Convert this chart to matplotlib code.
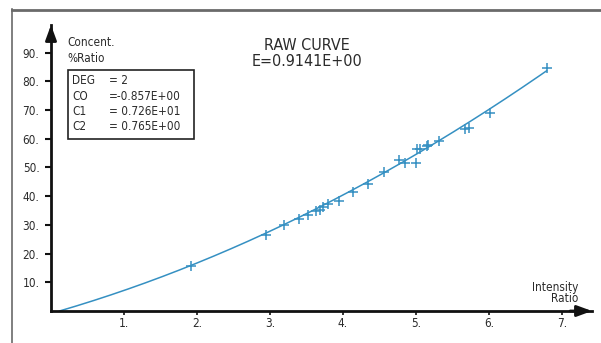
import numpy as np
import matplotlib
matplotlib.use('Agg')
import matplotlib.pyplot as plt
from matplotlib.patches import Rectangle
from matplotlib.lines import Line2D

# measured points (intensity ratio, concentration %)
x_ratio = [1.92, 2.95, 3.19, 3.40, 3.52, 3.63, 3.68, 3.73, 3.79, 3.94, 4.14, 4.34,
           4.56, 4.77, 4.85, 5.00, 5.01, 5.06, 5.15, 5.17, 5.32, 5.67, 5.73, 6.01, 6.79]
y_conc = [15.6, 26.6, 29.8, 31.9, 33.6, 34.7, 35.2, 36.1, 37.3, 38.4, 41.6, 44.2,
          48.5, 52.7, 51.6, 51.6, 56.6, 56.6, 57.6, 57.8, 59.4, 63.3, 63.6, 69.0, 84.8]

# fitted curve coefficients C0, C1, C2 (as printed on the chart)
coef = [-0.857, 7.26, 0.765]
coef_labels = ['DEG', 'CO', 'C1', 'C2']
coef_texts = ['= 2', '=-0.857E+00', '= 0.726E+01', '= 0.765E+00']

x_ticks = [1, 2, 3, 4, 5, 6, 7]
x_labels = ['1.', '2.', '3.', '4.', '5.', '6.', '7.']
y_ticks = [10, 20, 30, 40, 50, 60, 70, 80, 90]
y_labels = ['10.', '20.', '30.', '40.', '50.', '60.', '70.', '80.', '90.']

W, H = 601, 343
blue = '#3590c2'
ink = '#2b2b2b'

plt.rcParams['font.family'] = ['DejaVu Sans']
plt.rcParams['font.stretch'] = 'condensed'


def px(x, y):
    # pixel position -> figure fraction
    return x / W, 1 - y / H


fig = plt.figure(figsize=(W / 100, H / 100), dpi=100)
ax = fig.add_axes([51 / W, 32 / H, 541 / W, 286 / H])
ax.set_xlim(0, 541 / 73)
ax.set_ylim(0, 286 / 2.87)
ax.patch.set_alpha(0)

# curve from where it crosses zero up to the last point
c0, c1, c2 = coef
x_start = (-c1 + np.sqrt(c1 ** 2 - 4 * c2 * c0)) / (2 * c2)
xc = np.linspace(x_start, max(x_ratio), 200)
yc = np.polyval(coef[::-1], xc)
ax.plot(xc, yc, color=blue, lw=1.1)
ax.plot(x_ratio, y_conc, '+', color=blue, ms=6.5, mew=1.1)

for s in ['top', 'right']:
    ax.spines[s].set_visible(False)
for s in ['left', 'bottom']:
    ax.spines[s].set_linewidth(2)
    ax.spines[s].set_color('#111111')

# arrow heads
xmax, ymax = ax.get_xlim()[1], ax.get_ylim()[1]
ax.annotate('', xy=(xmax, 0), xytext=(xmax - 0.3, 0),
            arrowprops=dict(arrowstyle='-|>,head_length=0.9,head_width=0.33',
                            color='#111111', lw=2, shrinkA=0, shrinkB=0),
            annotation_clip=False)
ax.annotate('', xy=(0, ymax), xytext=(0, ymax - 5),
            arrowprops=dict(arrowstyle='-|>,head_length=0.9,head_width=0.33',
                            color='#111111', lw=2, shrinkA=0, shrinkB=0),
            annotation_clip=False)

ax.set_xticks(x_ticks)
ax.set_xticklabels(x_labels)
ax.set_yticks(y_ticks)
ax.set_yticklabels(y_labels)
ax.tick_params(axis='y', direction='out', length=4.3, width=1.5, pad=4,
               labelsize=8.5, colors='#111111', labelcolor=ink)
ax.tick_params(axis='x', direction='out', length=3, width=1.2, pad=1,
               labelsize=8.5, colors='#111111', labelcolor=ink)

# outer frame (left and top edges)
fig.add_artist(Line2D([12 / W, 12 / W], [0, 1 - 9 / H], color='#6a6a6a', lw=1.2))
fig.add_artist(Line2D([12 / W, 1], [1 - 9.5 / H, 1 - 9.5 / H], color='#6a6a6a', lw=2))

# titles and axis names
fig.text(*px(307, 45), 'RAW CURVE', ha='center', va='center', fontsize=11.5, color=ink)
fig.text(*px(307, 62), 'E=0.9141E+00', ha='center', va='center', fontsize=11.5, color=ink)
fig.text(*px(67, 43), 'Concent.', ha='left', va='center', fontsize=8.5, color=ink)
fig.text(*px(67, 58), '%Ratio', ha='left', va='center', fontsize=8.5, color=ink)
fig.text(*px(578, 287), 'Intensity', ha='right', va='center', fontsize=8.5, color=ink)
fig.text(*px(578, 299), 'Ratio', ha='right', va='center', fontsize=8.5, color=ink)

# coefficient box
x0, y0 = px(68, 139)
x1, y1 = px(194, 70)
fig.add_artist(Rectangle((x0, y0), x1 - x0, y1 - y0, transform=fig.transFigure,
                         fill=False, ec='#222222', lw=1.2))
for i, (lab, txt) in enumerate(zip(coef_labels, coef_texts)):
    yy = 81 + i * 15
    fig.text(*px(72, yy), lab, ha='left', va='center', fontsize=8.5, color=ink)
    fig.text(*px(109, yy), txt, ha='left', va='center', fontsize=8.5, color=ink)

fig.savefig('out.png', dpi=100)
